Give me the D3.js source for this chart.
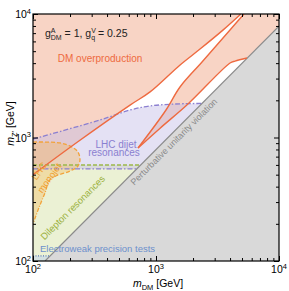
<!DOCTYPE html>
<html>
<head>
<meta charset="utf-8">
<script src="https://cdn.jsdelivr.net/npm/d3@7"></script>
<style>
body { margin: 0; background: #fff; }
svg text { font-family: "Liberation Sans", Arial, sans-serif; }
</style>
</head>
<body>
<div id="chart"></div>
<script>
// all masses in GeV, [m_DM, m_Z']
var axisTicks = [100, 1000, 10000];
var tickExponents = ["2", "3", "4"];

var relicUpper = [[100, 500], [230, 920], [615, 1830], [895, 2340], [1570, 3870], [2280, 5200], [3500, 7400], [4900, 10000]];
var relicMiddle = [[714, 822], [1206, 1670], [1567, 2564], [2366, 4087], [3996, 7420], [5190, 10000]];
var relicLower = [[714, 822], [1080, 1190], [1820, 1867], [4000, 4010], [4390, 4160], [5490, 4400]];

var unitarityLine = [[125.3, 100], [10000, 7980]];

var dijetUpper = [[100, 972], [350, 1386], [615, 1670], [894, 1800], [1427, 1867], [2366, 1888]];
var dijetLower = [[100, 557], [698, 557]];
var dileptonEdge = [[100, 600], [752, 600]];
var ewEdge = [[100, 110], [138, 110]];

var monojetDashed = [[100, 919], [166, 903], [207, 838], [232, 763], [241, 657], [232, 588], [200, 535], [160, 497]];
var monojetDashDot = [[160, 497], [137, 453], [125, 355], [114, 284], [104, 223], [100, 199]];

var margin = {top: 14, right: 10, bottom: 30, left: 33},
    width = 246,
    height = 247;

var x = d3.scaleLog().domain([100, 10000]).range([0, width]);
var y = d3.scaleLog().domain([100, 10000]).range([height, 0]);

var svg = d3.select("#chart")
        .append("svg")
        .attr("width", 289)
        .attr("height", 291);

var canvas = svg.append("g")
        .attr("transform", "translate(" + margin.left + "," + margin.top + ")");

canvas.append("clipPath")
        .attr("id", "plotclip")
        .append("rect")
        .attr("width", width)
        .attr("height", height);

var smooth = d3.line()
        .x(function (d) { return x(d[0]); })
        .y(function (d) { return y(d[1]); })
        .curve(d3.curveCatmullRom.alpha(0.5));
var straight = d3.line()
        .x(function (d) { return x(d[0]); })
        .y(function (d) { return y(d[1]); });

// join several pieces into one closed outline
function outline(parts) {
    return parts.map(function (p, i) {
        var s = (p[1] ? smooth : straight)(p[0]);
        return i ? s.replace(/^M/, "L") : s;
    }).join("") + "Z";
}

var regions = canvas.append("g").attr("clip-path", "url(#plotclip)");

// DM overproduction
regions.append("path")
        .attr("d", outline([[[[4900, 10000], [100, 10000], [100, 500]], false], [relicUpper, true]]))
        .style("fill", "#f8d4c5");
regions.append("path")
        .attr("d", outline([[relicMiddle, true], [[[5190, 10000], [10000, 10000], [10000, 7980]], false],
            [relicLower.slice().reverse(), true]]))
        .style("fill", "#f8d4c5");

// dilepton
regions.append("path")
        .attr("d", outline([[[[100, 100], [100, 600], [10000, 600], [10000, 100]], false]]))
        .style("fill", "#dde8b8")
        .style("opacity", 0.6);

// dijet
regions.append("path")
        .attr("d", outline([[dijetUpper, true], [[[2366, 1888], [10000, 1888], [10000, 557], [100, 557]], false]]))
        .style("fill", "#c4bde6")
        .style("opacity", 0.45);

// monojet
regions.append("path")
        .attr("d", outline([[monojetDashed.concat(monojetDashDot.slice(1)), true]]))
        .style("fill", "#f5b450")
        .style("opacity", 0.35);

// electroweak
regions.append("path")
        .attr("d", outline([[[[100, 100], [100, 110], [10000, 110], [10000, 100]], false]]))
        .style("fill", "#bcd0ee")
        .style("opacity", 0.5);

// perturbative unitarity
regions.append("path")
        .attr("d", outline([[[unitarityLine[0], unitarityLine[1], [10000, 100]], false]]))
        .style("fill", "#d9d9d9");

var lines = canvas.append("g").attr("clip-path", "url(#plotclip)").style("fill", "none");

lines.append("path").attr("d", straight(unitarityLine))
        .style("stroke", "#8a8a8a").style("stroke-width", 1.2);

lines.append("path").attr("d", straight(ewEdge))
        .style("stroke", "#5a78b8").style("stroke-width", 1.3).style("stroke-dasharray", "1,1.5");

lines.append("path").attr("d", straight(dileptonEdge))
        .style("stroke", "#9cb84a").style("stroke-width", 1.5).style("stroke-dasharray", "4,2");

[dijetUpper, dijetLower].forEach(function (d) {
    lines.append("path").attr("d", smooth(d))
            .style("stroke", "#8b7fd0").style("stroke-width", 1.3)
            .style("stroke-dasharray", "5,2,1.5,2");
});

lines.append("path").attr("d", smooth(monojetDashed))
        .style("stroke", "#f2a33a").style("stroke-width", 1.3).style("stroke-dasharray", "4,2");
lines.append("path").attr("d", smooth(monojetDashDot))
        .style("stroke", "#f2a33a").style("stroke-width", 1.3).style("stroke-dasharray", "4,1.5,1,1.5");

[relicUpper, relicMiddle, relicLower].forEach(function (d) {
    lines.append("path").attr("d", smooth(d))
            .style("stroke", "#ee6a40").style("stroke-width", 1.4);
});

// labels inside the plot
function label(txt, px, py, color, size, angle, anchor) {
    return canvas.append("text")
            .attr("transform", "translate(" + px + "," + py + ") rotate(" + (angle || 0) + ")")
            .attr("text-anchor", anchor || "middle")
            .style("font-size", size + "px")
            .style("fill", color)
            .text(txt);
}

label("DM overproduction", 67, 48, "#ee6a40", 10);
label("LHC dijet", 83, 134, "#8a7fd0", 10);
label("resonances", 81, 142, "#8a7fd0", 10);
label("Perturbative unitarity violation", 143, 130, "#8a8a8a", 9, -45);
label("Dilepton resonances", 42, 196, "#9cb23f", 9.5, -45);
label("LHC", 9, 159, "#f0a030", 9.5, -55);
label("monojet", 19, 166, "#f0a030", 9.5, -55);
label("Electroweak precision tests", 7, 238, "#6d90cc", 9.5, 0, "start");

var coup = canvas.append("text")
        .attr("x", 12).attr("y", 23)
        .style("font-size", "10.5px")
        .style("fill", "#222");
coup.append("tspan").text("g");
coup.append("tspan").attr("dy", -4.5).style("font-size", "7px").text("A");
coup.append("tspan").attr("dx", -4.7).attr("dy", 7.5).style("font-size", "7px").text("DM");
coup.append("tspan").attr("dy", -3).text(" = 1, g");
coup.append("tspan").attr("dy", -4.5).style("font-size", "7px").text("V");
coup.append("tspan").attr("dx", -4.7).attr("dy", 7.5).style("font-size", "7px").text("q");
coup.append("tspan").attr("dy", -3).text(" = 0.25");

// axes, ticks pointing inward on all four sides
var minor = x.ticks().filter(function (d) { return axisTicks.indexOf(d) < 0; });

function drawAxis(axis, translate) {
    var g = canvas.append("g").attr("transform", translate || null);
    g.append("g").call(axis.tickValues(axisTicks).tickSizeInner(-5).tickSizeOuter(0).tickFormat(""));
    g.append("g").call(axis.tickValues(minor).tickSizeInner(-3).tickSizeOuter(0).tickFormat(""));
    g.selectAll(".domain").remove();
    g.selectAll("line").style("stroke", "#000").style("stroke-width", 1);
    return g;
}

drawAxis(d3.axisBottom(x), "translate(0," + height + ")");
drawAxis(d3.axisTop(x));
drawAxis(d3.axisLeft(y));
drawAxis(d3.axisRight(y), "translate(" + width + ",0)");

canvas.append("rect")
        .attr("width", width)
        .attr("height", height)
        .style("fill", "none")
        .style("stroke", "#000")
        .style("stroke-width", 1.2);

axisTicks.forEach(function (d, i) {
    var tx = canvas.append("text")
            .attr("x", x(d)).attr("y", height + 12)
            .attr("text-anchor", "middle")
            .style("font-size", "10.5px");
    tx.append("tspan").text("10");
    tx.append("tspan").attr("dy", -4.5).style("font-size", "7.5px").text(tickExponents[i]);

    var ty = canvas.append("text")
            .attr("x", -2).attr("y", y(d) + 4)
            .attr("text-anchor", "end")
            .style("font-size", "10.5px");
    ty.append("tspan").text("10");
    ty.append("tspan").attr("dy", -4.5).style("font-size", "7.5px").text(tickExponents[i]);
});

var xl = canvas.append("text")
        .attr("x", width / 2 + 2).attr("y", height + 26)
        .attr("text-anchor", "middle")
        .style("font-size", "10.5px");
xl.append("tspan").style("font-style", "italic").text("m");
xl.append("tspan").attr("dy", 2.5).style("font-size", "7.5px").text("DM");
xl.append("tspan").attr("dy", -2.5).text(" [GeV]");

var yl = canvas.append("text")
        .attr("transform", "translate(-19," + (height / 2 - 14) + ") rotate(-90)")
        .attr("text-anchor", "middle")
        .style("font-size", "10.5px");
yl.append("tspan").style("font-style", "italic").text("m");
yl.append("tspan").attr("dy", 2.5).style("font-size", "7.5px").text("Z\u2032");
yl.append("tspan").attr("dy", -2.5).text(" [GeV]");
</script>
</body>
</html>
